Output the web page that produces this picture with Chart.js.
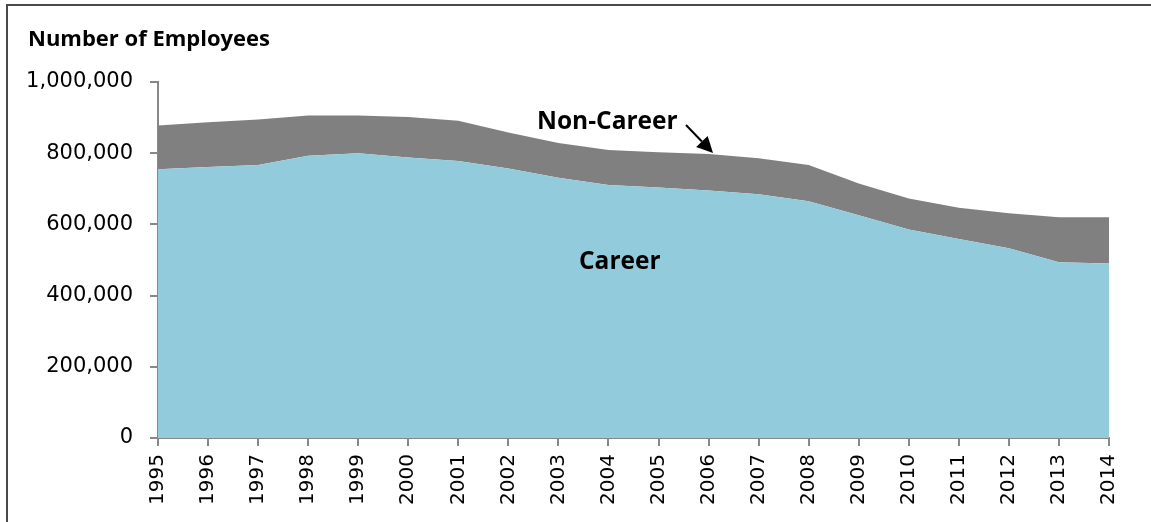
<!DOCTYPE html>
<html>
<head>
<meta charset="utf-8">
<script src="https://cdn.jsdelivr.net/npm/chart.js@4/dist/chart.umd.min.js"></script>
<style>
  html, body { margin: 0; padding: 0; background: #fff; width: 1151px; height: 522px; overflow: hidden; }
  #wrap { position: relative; width: 1151px; height: 522px; }
  #frame { position: absolute; left: 6px; top: 4px; width: 1200px; height: 600px; border: 2px solid #4a4a4a; box-sizing: border-box; pointer-events: none; }
  canvas { position: absolute; left: 0; top: 0; }
</style>
</head>
<body>
<div id="wrap">
  <canvas id="c" width="1151" height="522"></canvas>
  <div id="frame"></div>
</div>
<script>
const years = ['1995','1996','1997','1998','1999','2000','2001','2002','2003','2004','2005','2006','2007','2008','2009','2010','2011','2012','2013','2014'];
const career = [755000,761000,767000,793000,800000,788000,778000,757000,731000,711000,704000,695000,685000,665000,626000,586000,559000,533000,494000,490000];
const nonCareer = [123000,126000,128000,113000,106000,114000,113000,101000,98000,98000,99000,103000,101000,102000,89000,87000,88000,98000,126000,130000];
const yTicks = [0,200000,400000,600000,800000,1000000];
const titleText = 'Number of Employees';
const careerLabel = 'Career';
const nonCareerLabel = 'Non-Career';

const boldFamily = 'Open Sans';

const annotations = {
  id: 'annotations',
  afterDraw(chart) {
    const ctx = chart.ctx;
    ctx.save();
    ctx.fillStyle = '#000';
    ctx.textBaseline = 'middle';
    ctx.textAlign = 'left';
    ctx.font = 'bold 22px "' + boldFamily + '"';
    ctx.fillText(titleText, 28, 40);
    ctx.font = 'bold 24.5px "' + boldFamily + '"';
    ctx.fillText(nonCareerLabel, 537, 122);
    ctx.fillText(careerLabel, 579, 262);
    // arrow
    const x0 = 686, y0 = 125, x1 = 713, y1 = 153;
    ctx.strokeStyle = '#000';
    ctx.lineWidth = 2;
    const ang = Math.atan2(y1 - y0, x1 - x0);
    const hl = 16, hw = 8;
    const bx = x1 - hl * Math.cos(ang), by = y1 - hl * Math.sin(ang);
    ctx.beginPath();
    ctx.moveTo(x0, y0);
    ctx.lineTo(bx, by);
    ctx.stroke();
    ctx.beginPath();
    ctx.moveTo(x1, y1);
    ctx.lineTo(bx + hw * Math.sin(ang), by - hw * Math.cos(ang));
    ctx.lineTo(bx - hw * Math.sin(ang), by + hw * Math.cos(ang));
    ctx.closePath();
    ctx.fill();
    ctx.restore();
  }
};

new Chart(document.getElementById('c'), {
  type: 'line',
  data: {
    labels: years,
    datasets: [
      { label: careerLabel, data: career, fill: 'origin', backgroundColor: '#92CBDC', borderWidth: 0, pointRadius: 0, tension: 0 },
      { label: nonCareerLabel, data: nonCareer, fill: '-1', backgroundColor: '#808080', borderWidth: 0, pointRadius: 0, tension: 0 }
    ]
  },
  options: {
    responsive: false,
    animation: false,
    devicePixelRatio: 1,
    layout: { padding: { left: 0, right: 42, top: 82, bottom: 0 } },
    plugins: { legend: { display: false }, tooltip: { enabled: false }, title: { display: false } },
    elements: { line: { borderWidth: 0 } },
    scales: {
      x: {
        offset: false,
        grid: { display: true, drawOnChartArea: false, tickLength: 8, color: '#888', lineWidth: 2 },
        border: { display: true, color: '#888', width: 2 },
        ticks: { color: '#000', font: { family: 'DejaVu Sans', size: 20 }, minRotation: 90, maxRotation: 90, padding: 8, autoSkip: false },
        afterFit(scale) { scale.height = 84; }
      },
      y: {
        stacked: true,
        min: 0,
        max: 1000000,
        grid: { display: true, drawOnChartArea: false, tickLength: 8, color: '#888', lineWidth: 2 },
        border: { display: true, color: '#888', width: 2 },
        afterBuildTicks(scale) { scale.ticks = yTicks.map(v => ({ value: v })); },
        ticks: {
          color: '#000', font: { family: 'DejaVu Sans', size: 21 }, padding: 17,
          callback: v => Number(v).toLocaleString('en-US')
        },
        afterFit(scale) { scale.width = 158; }
      }
    }
  },
  plugins: [annotations]
});
</script>
</body>
</html>
